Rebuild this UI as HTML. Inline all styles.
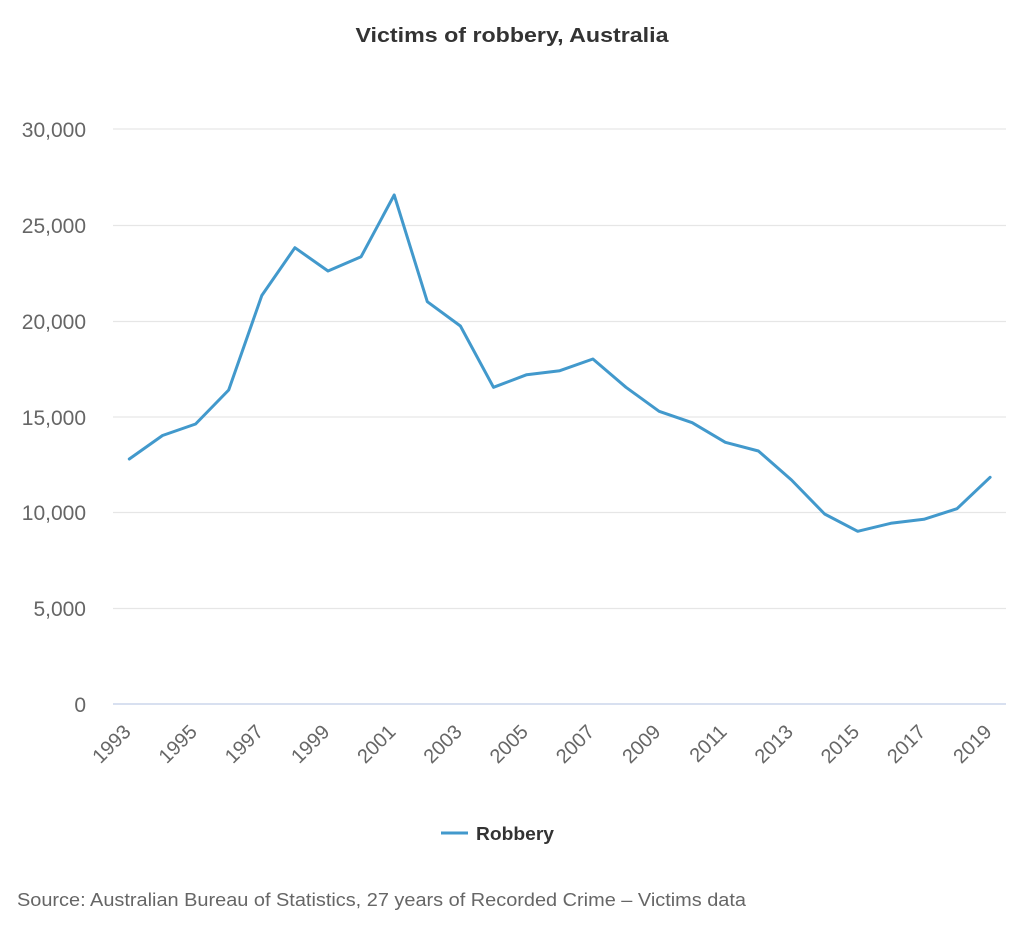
<!DOCTYPE html>
<html>
<head>
<meta charset="utf-8">
<style>
  html, body { margin: 0; padding: 0; background: #ffffff; }
  svg { display: block; }
  text { font-family: "Liberation Sans", "DejaVu Sans", sans-serif; }
</style>
</head>
<body>
<svg width="1024" height="939" viewBox="0 0 1024 939" xmlns="http://www.w3.org/2000/svg">
  <rect x="0" y="0" width="1024" height="939" fill="#ffffff"/>

  <!-- Title -->
  <text x="512" y="42" text-anchor="middle" font-size="20" font-weight="bold" fill="#333333" textLength="313" lengthAdjust="spacingAndGlyphs">Victims of robbery, Australia</text>

  <!-- Gridlines -->
  <g stroke="#e6e6e6" stroke-width="1.3">
    <line x1="113" y1="129" x2="1006" y2="129"/>
    <line x1="113" y1="225.5" x2="1006" y2="225.5"/>
    <line x1="113" y1="321.5" x2="1006" y2="321.5"/>
    <line x1="113" y1="417" x2="1006" y2="417"/>
    <line x1="113" y1="512.5" x2="1006" y2="512.5"/>
    <line x1="113" y1="608.5" x2="1006" y2="608.5"/>
  </g>
  <!-- X axis line -->
  <line x1="113" y1="704" x2="1006" y2="704" stroke="#ccd6eb" stroke-width="1.5"/>

  <!-- Y axis labels -->
  <g font-size="21" fill="#666666" text-anchor="end">
    <text x="86" y="137">30,000</text>
    <text x="86" y="233">25,000</text>
    <text x="86" y="329">20,000</text>
    <text x="86" y="425">15,000</text>
    <text x="86" y="520">10,000</text>
    <text x="86" y="616">5,000</text>
    <text x="86" y="712">0</text>
  </g>

  <!-- X axis labels -->
  <g font-size="20" fill="#666666" text-anchor="end">
    <text transform="translate(132,733) rotate(-45)">1993</text>
    <text transform="translate(198.2,733) rotate(-45)">1995</text>
    <text transform="translate(264.5,733) rotate(-45)">1997</text>
    <text transform="translate(330.7,733) rotate(-45)">1999</text>
    <text transform="translate(396.9,733) rotate(-45)">2001</text>
    <text transform="translate(463.1,733) rotate(-45)">2003</text>
    <text transform="translate(529.3,733) rotate(-45)">2005</text>
    <text transform="translate(595.6,733) rotate(-45)">2007</text>
    <text transform="translate(661.8,733) rotate(-45)">2009</text>
    <text transform="translate(728,733) rotate(-45)">2011</text>
    <text transform="translate(794.2,733) rotate(-45)">2013</text>
    <text transform="translate(860.5,733) rotate(-45)">2015</text>
    <text transform="translate(926.7,733) rotate(-45)">2017</text>
    <text transform="translate(992.9,733) rotate(-45)">2019</text>
  </g>

  <!-- Series -->
  <polyline fill="none" stroke="#4299cc" stroke-width="3" stroke-linejoin="round" stroke-linecap="round"
    points="129.3,459 162.5,435.5 195.6,424 228.7,390 261.8,295.5 294.9,247.7 328,271 361.1,256.7 394.2,195 427.3,301.7 460.4,326 493.5,387.3 526.7,374.7 559.8,370.7 592.9,359 626,387.3 659.1,411.3 692.2,422.7 725.3,442.3 758.4,451 791.5,480 824.6,514 857.7,531.3 890.8,523.3 923.9,519.3 957,508.7 990.1,477.3"/>

  <!-- Legend -->
  <line x1="441" y1="833" x2="468" y2="833" stroke="#4299cc" stroke-width="3"/>
  <text x="476" y="840" font-size="18" font-weight="bold" fill="#333333" textLength="78" lengthAdjust="spacingAndGlyphs">Robbery</text>

  <!-- Source -->
  <text x="17" y="906" font-size="18" fill="#666666" textLength="729" lengthAdjust="spacingAndGlyphs">Source: Australian Bureau of Statistics, 27 years of Recorded Crime – Victims data</text>
</svg>
</body>
</html>
